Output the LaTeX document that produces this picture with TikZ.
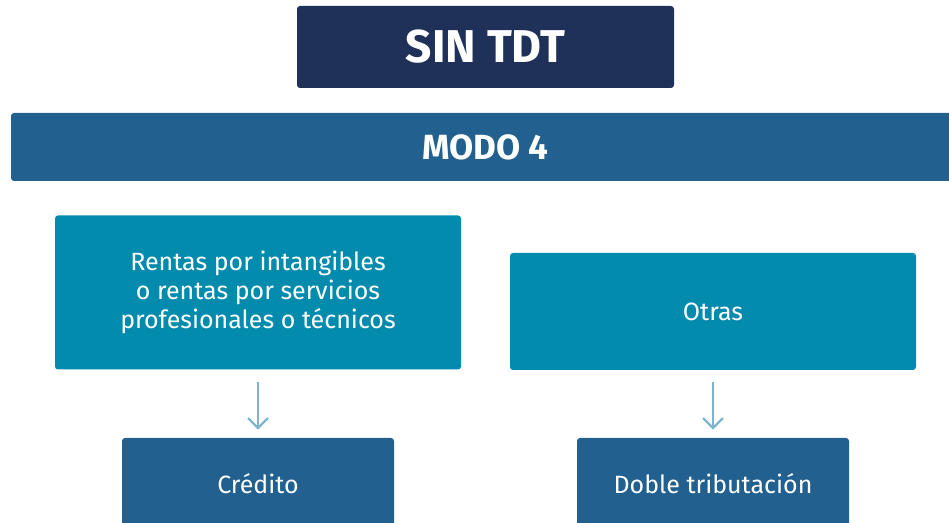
\documentclass[tikz,border=0pt]{standalone}
\usepackage{fontspec}
\setmainfont{Fira Sans}
\usetikzlibrary{arrows.meta}

\definecolor{navy}{RGB}{31,49,88}
\definecolor{modoblue}{RGB}{34,96,143}
\definecolor{teal}{RGB}{3,139,174}
\definecolor{arrowblue}{RGB}{125,181,207}

\begin{document}
\begin{tikzpicture}[x=0.5pt,y=-0.5pt,
  box/.style={fill=#1, rounded corners=1.5pt, text=white, align=center, inner sep=0pt},
  flecha/.style={draw=arrowblue, line width=1.1pt, -{Straight Barb[length=5pt,width=10pt]}}]
\useasboundingbox (0,0) rectangle (949,523);
\clip (0,0) rectangle (949,523);
\node[box=navy, minimum width=188.5pt, minimum height=41pt, font=\fontsize{23}{28}\selectfont\bfseries] (sintdt) at (485.5,47) {SIN TDT};
\node[box=modoblue, minimum width=474.5pt, minimum height=34pt, font=\fontsize{17.5}{21}\selectfont\bfseries] (modo) at (485.5,147) {MODO 4};
\node[box=teal, minimum width=203pt, minimum height=77pt, font=\fontsize{12.5}{14.5}\selectfont] (rentas) at (258,292.5) {Rentas por intangibles\\o rentas por servicios\\profesionales o técnicos};
\node[box=teal, minimum width=203pt, minimum height=58.5pt, font=\fontsize{12.5}{14.5}\selectfont] (otras) at (713,311.5) {Otras};
\node[box=modoblue, minimum width=136pt, minimum height=46pt, font=\fontsize{12.5}{14.5}\selectfont] (credito) at (258,484) {Crédito};
\node[box=modoblue, minimum width=136pt, minimum height=46pt, font=\fontsize{12.5}{14.5}\selectfont] (doble) at (713,484) {Doble tributación};
\path[flecha, shorten <=6pt, shorten >=4pt]
(rentas) edge (credito)
(otras) edge (doble);
\end{tikzpicture}
\end{document}
